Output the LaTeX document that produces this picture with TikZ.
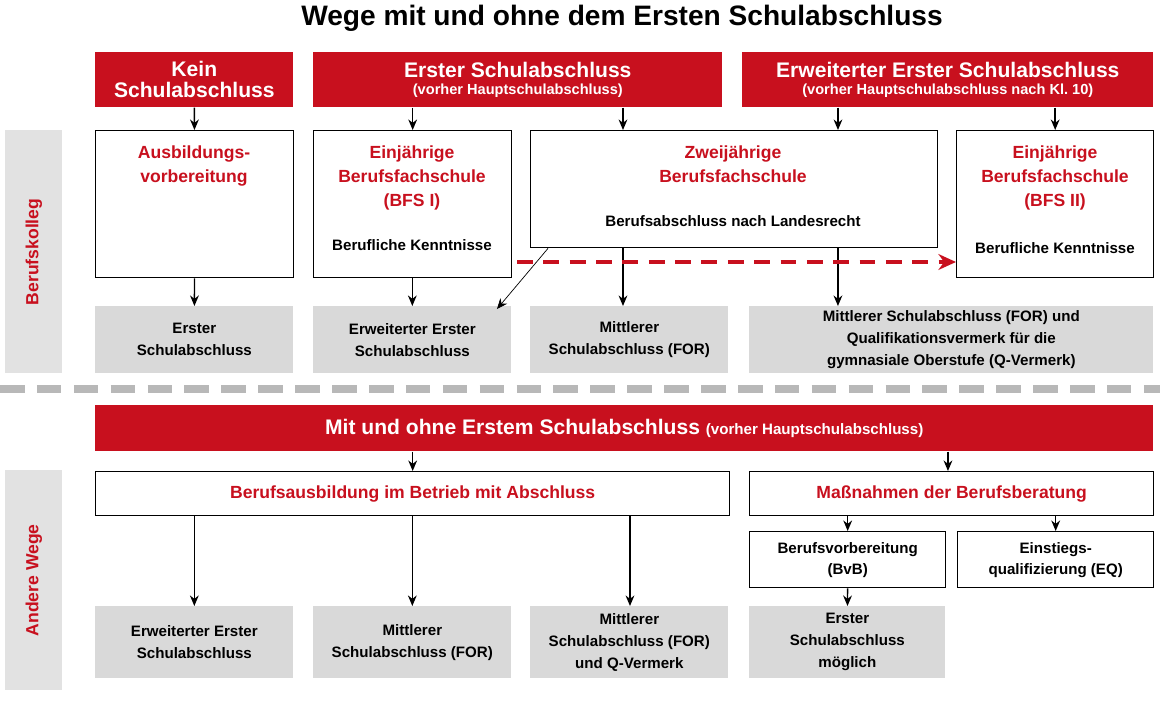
\documentclass[tikz,border=0pt]{standalone}
\usepackage{fontspec}
\setmainfont{Liberation Sans}
\usetikzlibrary{arrows.meta}
\definecolor{schulrot}{RGB}{200,16,30}
\definecolor{kastengrau}{RGB}{217,217,217}
\definecolor{tabgrau}{RGB}{226,226,226}
\begin{document}
\begin{tikzpicture}[x=0.02cm, y=-0.02cm,
  hdr/.style={fill=schulrot, anchor=north west, inner sep=0pt, align=center, text=white,
    font=\bfseries\fontsize{12}{12}\selectfont},
  wbox/.style={draw=black, thick, fill=white, anchor=north west, inner sep=0pt},
  gbox/.style={fill=kastengrau, anchor=north west, inner sep=0pt, align=center,
    font=\bfseries\fontsize{8.6}{12.5}\selectfont},
  tab/.style={fill=tabgrau, anchor=north west, inner sep=0pt},
  rtitle/.style={text=schulrot, align=center, font=\bfseries\fontsize{10}{13.6}\selectfont},
  btext/.style={align=center, font=\bfseries\fontsize{8.6}{12}\selectfont},
  arr/.style={-{Stealth[length=6pt, width=5pt]}, thick}]

  \useasboundingbox (0,0) rectangle (1160,710);

  % title
  \node[font=\bfseries\fontsize{16}{18}\selectfont] (title) at (622,18) {Wege mit und ohne dem Ersten Schulabschluss};

  % side tabs
  \node[tab, minimum width=1.14cm, minimum height=4.86cm] (tabbk) at (5,130) {};
  \node[rotate=90, text=schulrot, font=\bfseries\fontsize{10}{12}\selectfont] (tabbkt) at (tabbk.center) {Berufskolleg};
  \node[tab, minimum width=1.14cm, minimum height=4.4cm] (tabaw) at (5,470) {};
  \node[rotate=90, text=schulrot, font=\bfseries\fontsize{10}{12}\selectfont] (tabawt) at (tabaw.center) {Andere Wege};

  % headers
  \node[hdr, minimum width=3.96cm, minimum height=1.1cm] (kein) at (95,52) {Kein\\Schulabschluss};
  \node[hdr, minimum width=8.18cm, minimum height=1.1cm] (erster) at (313,52)
    {Erster Schulabschluss\\[-2pt]{\fontsize{8.3}{10}\selectfont(vorher Hauptschulabschluss)}};
  \node[hdr, minimum width=8.22cm, minimum height=1.1cm] (erw) at (742,52)
    {Erweiterter Erster Schulabschluss\\[-2pt]{\fontsize{8.3}{10}\selectfont(vorher Hauptschulabschluss nach Kl.~10)}};

  % Berufskolleg boxes
  \node[wbox, minimum width=3.96cm, minimum height=2.94cm] (ausb) at (95,130) {};
  \node[rtitle, anchor=north] (ausbt) at (194,140) {Ausbildungs-\\vorbereitung};
  \node[wbox, minimum width=3.96cm, minimum height=2.94cm] (bfsa) at (313,130) {};
  \node[rtitle, anchor=north] (bfsat) at (412,140) {Einjährige\\Berufsfachschule\\(BFS I)};
  \node[btext] (bfsak) at (412,245) {Berufliche Kenntnisse};
  \node[wbox, minimum width=8.14cm, minimum height=2.34cm] (zwei) at (530,130) {};
  \node[rtitle, anchor=north] (zweit) at (733,140) {Zweijährige\\Berufsfachschule};
  \node[btext] (zweik) at (733,221) {Berufsabschluss nach Landesrecht};
  \node[wbox, minimum width=3.94cm, minimum height=2.94cm] (bfsb) at (956,130) {};
  \node[rtitle, anchor=north] (bfsbt) at (1055,140) {Einjährige\\Berufsfachschule\\(BFS II)};
  \node[btext] (bfsbk) at (1055,248) {Berufliche Kenntnisse};

  \node[gbox, minimum width=3.96cm, minimum height=1.34cm] (g1) at (95,306) {Erster\\Schulabschluss};
  \node[gbox, minimum width=3.96cm, minimum height=1.34cm] (g2) at (313,306) {Erweiterter Erster\\Schulabschluss};
  \node[gbox, minimum width=3.96cm, minimum height=1.34cm] (g3) at (530,306) {Mittlerer\\Schulabschluss (FOR)};
  \node[gbox, minimum width=8.08cm, minimum height=1.34cm] (g4) at (749,306)
    {Mittlerer Schulabschluss (FOR) und\\Qualifikationsvermerk für die\\gymnasiale Oberstufe (Q-Vermerk)};

  \draw[arr] (kein) -- (ausb);
  \draw[arr] (erster.south -| bfsa.north) -- (bfsa.north);
  \draw[arr] ([xshift=1.86cm]zwei.north west |- erster.south) -- ([xshift=1.86cm]zwei.north west);
  \draw[arr] ([xshift=1.92cm]erw.south west) -- ([xshift=1.92cm]erw.south west |- zwei.north);
  \draw[arr] (erw.south -| bfsb.north) -- (bfsb.north);
  \draw[arr] (ausb) -- (g1);
  \draw[arr] (bfsa.south -| g2.north) -- (g2.north);
  \draw[arr] ([xshift=1.86cm]zwei.south west) -- ([xshift=1.86cm]zwei.south west |- g3.north);
  \draw[arr] ([xshift=6.16cm]zwei.south west) -- ([xshift=6.16cm]zwei.south west |- g4.north);
  \draw[arr, thin] ([xshift=0.36cm]zwei.south west) -- ([xshift=3.68cm, yshift=-0.06cm]g2.north west);
  \coordinate (dstart) at (517,262);
  \draw[-{Stealth[length=10pt, width=9pt]}, schulrot, line width=2.4pt, dash pattern=on 9pt off 6pt]
    (dstart) -- (bfsb.west |- dstart);

  % separator
  \draw[kastengrau!85!black, line width=4pt, dash pattern=on 14pt off 7pt] (0,389) -- (1160,389);

  % Andere Wege
  \node[hdr, minimum width=21.16cm, minimum height=0.92cm] (mit) at (95,405)
    {Mit und ohne Erstem Schulabschluss {\fontsize{8.6}{10}\selectfont(vorher Hauptschulabschluss)}};
  \node[wbox, minimum width=12.68cm, minimum height=0.88cm, text=schulrot, font=\bfseries\fontsize{10}{12}\selectfont] (ausbb) at (95,471)
    {Berufsausbildung im Betrieb mit Abschluss};
  \node[wbox, minimum width=8.08cm, minimum height=0.88cm, text=schulrot, font=\bfseries\fontsize{10}{12}\selectfont] (mass) at (749,471)
    {Maßnahmen der Berufsberatung};
  \node[wbox, minimum width=3.92cm, minimum height=1.12cm, align=center, font=\bfseries\fontsize{8.6}{12}\selectfont] (bvb) at (749,531)
    {Berufsvorbereitung\\(BvB)};
  \node[wbox, minimum width=3.92cm, minimum height=1.12cm, align=center, font=\bfseries\fontsize{8.6}{12}\selectfont] (eq) at (957,531)
    {Einstiegs-\\qualifizierung (EQ)};

  \node[gbox, minimum width=3.96cm, minimum height=1.44cm] (h1) at (95,606) {Erweiterter Erster\\Schulabschluss};
  \node[gbox, minimum width=3.96cm, minimum height=1.44cm] (h2) at (313,606) {Mittlerer\\Schulabschluss (FOR)};
  \node[gbox, minimum width=3.96cm, minimum height=1.44cm] (h3) at (530,606) {Mittlerer\\Schulabschluss (FOR)\\und Q-Vermerk};
  \node[gbox, minimum width=3.92cm, minimum height=1.44cm] (h4) at (749,606) {Erster\\Schulabschluss\\möglich};

  \draw[arr] (mit.south -| bfsa.north) -- (ausbb.north -| bfsa.north);
  \draw[arr] ([xshift=3.98cm]mit.south -| mass.south west) -- ([xshift=3.98cm]mass.north west);
  \draw[arr] (ausbb.south -| h1.north) -- (h1.north);
  \draw[arr] (ausbb.south -| h2.north) -- (h2.north);
  \draw[arr] ([xshift=2cm]ausbb.south -| h3.north west) -- ([xshift=2cm]h3.north west);
  \draw[arr] (mass.south -| bvb.north) -- (bvb.north);
  \draw[arr] (mass.south -| eq.north) -- (eq.north);
  \draw[arr] (bvb) -- (h4);
\end{tikzpicture}
\end{document}
